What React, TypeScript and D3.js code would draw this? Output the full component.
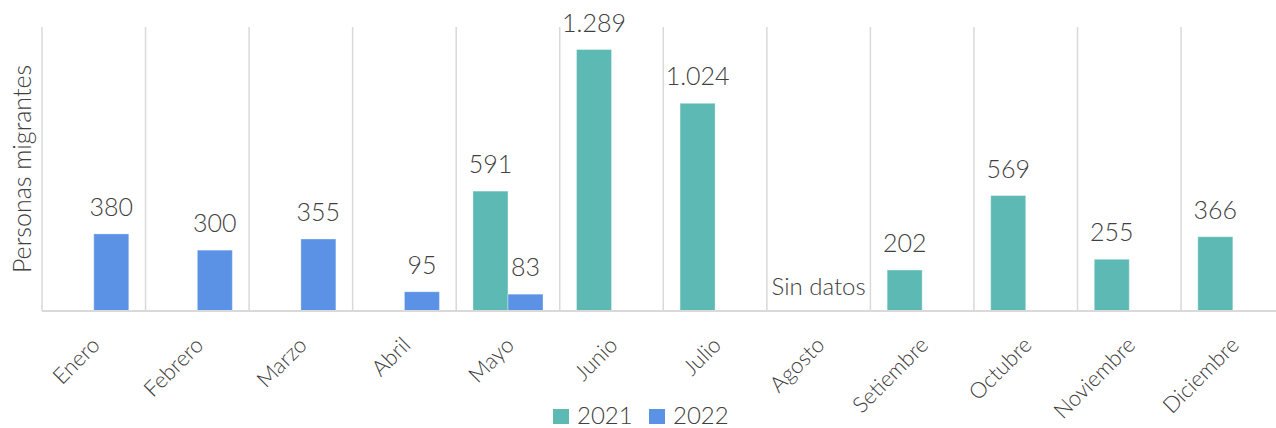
import React from "react";
import * as d3 from "d3";

const months = ["Enero", "Febrero", "Marzo", "Abril", "Mayo", "Junio", "Julio", "Agosto", "Setiembre", "Octubre", "Noviembre", "Diciembre"];
const series = ["2021", "2022"];
const values2021: (number | null)[] = [null, null, null, null, 591, 1289, 1024, null, 202, 569, 255, 366];
const values2022: (number | null)[] = [380, 300, 355, 95, 83, null, null, null, null, null, null, null];
const noDataMonths = ["Agosto"];
const noDataText = "Sin datos";
const yTitle = "Personas migrantes";
const colors = ["#5DB9B3", "#5B92E5"];

const W = 1276;
const H = 428;
const FONT = "Lato, 'Open Sans', sans-serif";

export default function App() {
  const left = 42;
  const step = 103.55;
  const x = d3.scaleBand<string>().domain(months).range([left, left + step * months.length]).paddingInner(0).paddingOuter(0);
  const xs = d3.scaleBand<string>().domain(series).range([0, x.bandwidth()]).paddingInner(0).paddingOuter(0.479);
  const y = d3.scaleLinear().domain([0, 1400]).range([311, 27]);
  const fmt = d3.formatLocale({ decimal: ",", thousands: ".", grouping: [3], currency: ["", ""] }).format(",d");
  const data = [values2021, values2022];
  const textColor = "#404040";

  return (
    <svg width={W} height={H} style={{ position: "absolute", left: 0, top: 0, background: "#fff" }} fontFamily={FONT}>
      {/* gridlines at category boundaries */}
      {months.map((m) => (
        <line key={"g" + m} x1={x(m)!} x2={x(m)!} y1={y(1400)} y2={y(0)} stroke="#D9D9D9" strokeWidth={1.5} />
      ))}
      {/* bars */}
      {series.map((s, si) =>
        months.map((m, i) => {
          const v = data[si][i];
          if (v == null) return null;
          return (
            <rect key={s + m} x={x(m)! + xs(s)!} y={y(v)} width={xs.bandwidth()} height={y(0) - y(v)} fill={colors[si]} stroke="#ffffff" strokeOpacity={0.35} strokeWidth={1} />
          );
        })
      )}
      {/* baseline */}
      <line x1={left} x2={W} y1={y(0)} y2={y(0)} stroke="#D9D9D9" strokeWidth={2} />
      {/* value labels */}
      {series.map((s, si) =>
        months.map((m, i) => {
          const v = data[si][i];
          if (v == null) return null;
          return (
            <text key={"l" + s + m} x={x(m)! + xs(s)! + xs.bandwidth() / 2} y={y(v) - 18} textAnchor="middle" fontSize={25} fontWeight={300} fill={textColor}>
              {fmt(v)}
            </text>
          );
        })
      )}
      {noDataMonths.map((m) => (
        <text key={"nd" + m} x={x(m)! + x.bandwidth() / 2} y={295} textAnchor="middle" fontSize={24} fontWeight={300} fill={textColor}>
          {noDataText}
        </text>
      ))}
      {/* x tick labels */}
      {months.map((m) => {
        const ax = x(m)! + x.bandwidth() / 2 + 2;
        const ay = 341;
        return (
          <text key={"t" + m} x={ax} y={ay} dy="0.35em" textAnchor="end" fontSize={22} fontWeight={300} fill={textColor} transform={`rotate(-45 ${ax} ${ay})`}>
            {m}
          </text>
        );
      })}
      {/* y title */}
      <text x={0} y={0} transform={`translate(31 ${(y(0) + y(1400)) / 2}) rotate(-90)`} textAnchor="middle" fontSize={25} fontWeight={300} fill={textColor}>
        {yTitle}
      </text>
      {/* legend */}
      {series.map((s, si) => {
        const lx = [553, 649][si];
        return (
          <g key={"lg" + s}>
            <rect x={lx} y={409} width={16} height={15} fill={colors[si]} />
            <text x={lx + 24} y={424} fontSize={24} fontWeight={300} fill={textColor}>{s}</text>
          </g>
        );
      })}
    </svg>
  );
}
